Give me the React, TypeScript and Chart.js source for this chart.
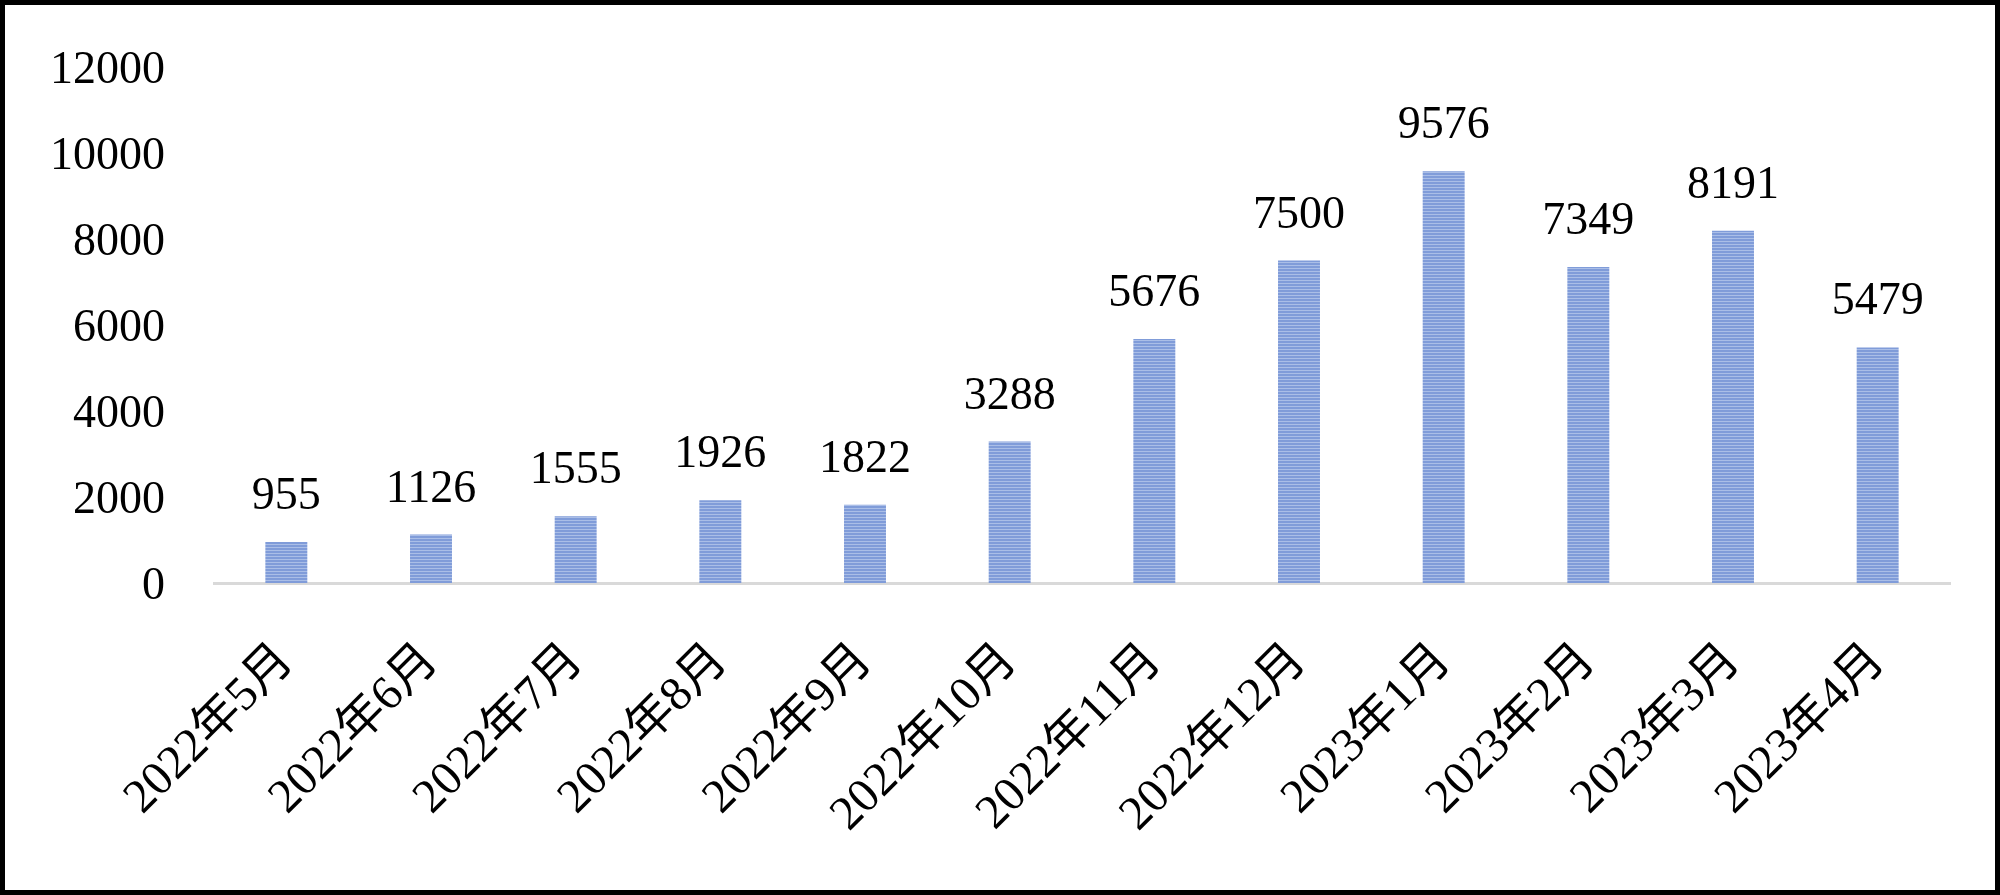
import React, { useEffect, useRef } from "react";
import { Chart, registerables } from "chart.js";

Chart.register(...registerables);

const categories = [
  "2022年5月", "2022年6月", "2022年7月", "2022年8月", "2022年9月", "2022年10月",
  "2022年11月", "2022年12月", "2023年1月", "2023年2月", "2023年3月", "2023年4月",
];
const values = [955, 1126, 1555, 1926, 1822, 3288, 5676, 7500, 9576, 7349, 8191, 5479];
const yMax = 12000;
const yStep = 2000;

const FONT = '"Liberation Serif", "Times New Roman", "Noto Sans CJK SC", serif';

function makePattern(): CanvasPattern | string {
  const c = document.createElement("canvas");
  c.width = 4;
  c.height = 3;
  const g = c.getContext("2d");
  if (!g) return "#8EA9DB";
  g.fillStyle = "#809CD9";
  g.fillRect(0, 0, 4, 2);
  g.fillStyle = "#AABEE7";
  g.fillRect(0, 2, 4, 1);
  const p = g.createPattern(c, "repeat");
  return p || "#8EA9DB";
}

const valueLabels = {
  id: "valueLabels",
  afterDatasetsDraw(chart: any) {
    const ctx = chart.ctx;
    const meta = chart.getDatasetMeta(0);
    ctx.save();
    ctx.font = `46px ${FONT}`;
    ctx.fillStyle = "#000";
    ctx.textAlign = "center";
    ctx.textBaseline = "alphabetic";
    meta.data.forEach((bar: any, i: number) => {
      ctx.fillText(String(values[i]), bar.x, bar.y - 33);
    });
    ctx.restore();
  },
};

export default function App() {
  const ref = useRef<HTMLCanvasElement>(null);
  useEffect(() => {
    if (!ref.current) return;
    const chart = new Chart(ref.current, {
      type: "bar",
      data: {
        labels: categories,
        datasets: [
          {
            data: values,
            backgroundColor: makePattern() as any,
            borderWidth: 0,
            barPercentage: 0.29,
            categoryPercentage: 1,
          },
        ],
      },
      options: {
        animation: false,
        responsive: false,
        maintainAspectRatio: false,
        layout: { padding: { top: 62, right: 45, left: 0, bottom: 0 } },
        plugins: { legend: { display: false }, tooltip: { enabled: false } },
        scales: {
          x: {
            grid: { display: false, drawTicks: false },
            border: { display: true, color: "#D9D9D9", width: 3 },
            ticks: {
              color: "#000",
              font: { family: FONT, size: 48 },
              maxRotation: 45,
              minRotation: 45,
              padding: 50,
              autoSkip: false,
            },
            afterFit(scale: any) {
              scale.height = 307;
            },
          },
          y: {
            min: 0,
            max: yMax,
            grid: { display: false, drawTicks: false },
            border: { display: false },
            ticks: {
              stepSize: yStep,
              color: "#000",
              font: { family: FONT, size: 46 },
              padding: 49,
              labelOffset: 4,
              callback: (v: any) => String(v),
            },
            afterFit(scale: any) {
              scale.width = 209;
              scale.paddingTop = 0;
              scale.paddingBottom = 0;
            },
          },
        },
      },
      plugins: [valueLabels],
    });
    return () => chart.destroy();
  }, []);
  return (
    <div
      style={{
        position: "fixed",
        left: 0,
        top: 0,
        width: 2000,
        height: 895,
        boxSizing: "border-box",
        border: "5px solid #000",
        background: "#fff",
      }}
    >
      <canvas ref={ref} width={1990} height={885} style={{ display: "block" }} />
    </div>
  );
}
